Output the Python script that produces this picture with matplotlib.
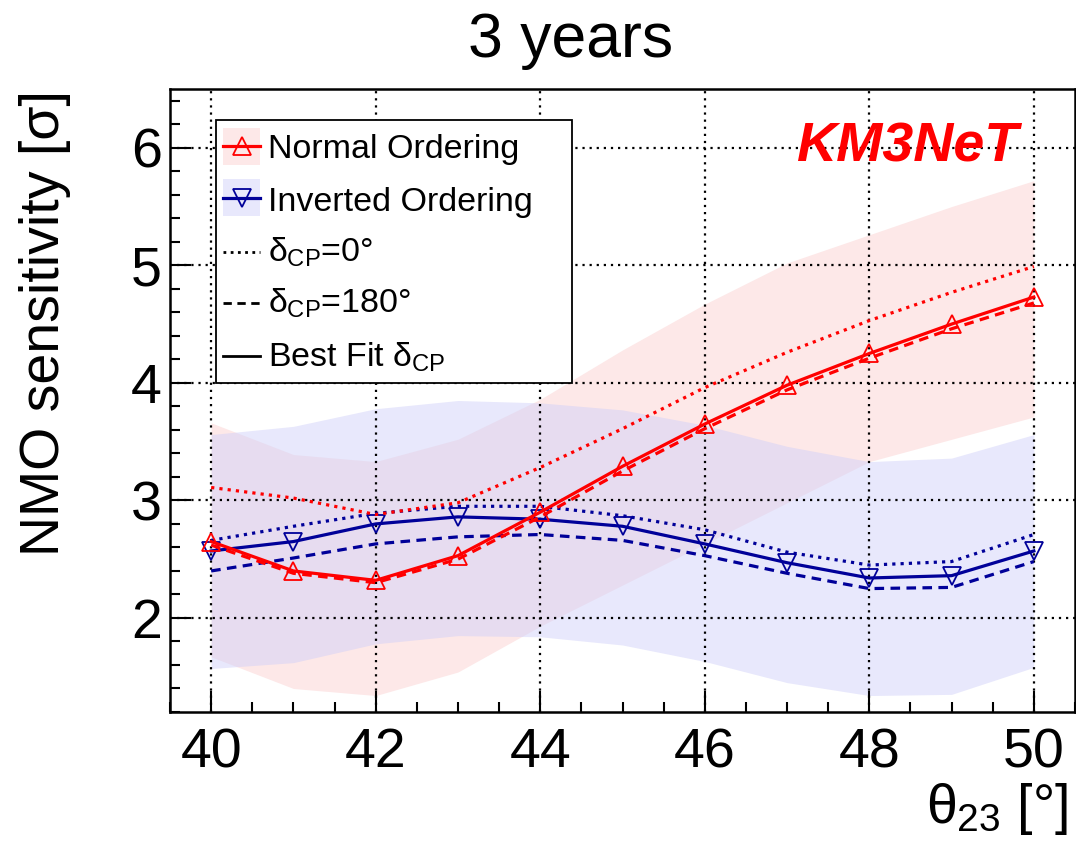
import numpy as np
import matplotlib
matplotlib.use("Agg")
import matplotlib.pyplot as plt
from matplotlib.lines import Line2D
from matplotlib.patches import Rectangle
from matplotlib.ticker import MultipleLocator

plt.rcParams["font.family"] = ["Liberation Sans", "DejaVu Sans"]
plt.rcParams["mathtext.fontset"] = "custom"
plt.rcParams["mathtext.rm"] = "Liberation Sans"
plt.rcParams["mathtext.it"] = "Liberation Sans"
plt.rcParams["mathtext.bf"] = "Liberation Sans:bold"

# theta_23 scan points (degrees)
THETA23 = [40, 41, 42, 43, 44, 45, 46, 47, 48, 49, 50]

# Normal ordering sensitivity
NO_BEST = [2.65, 2.40, 2.32, 2.53, 2.90, 3.29, 3.65, 3.98, 4.25, 4.50, 4.73]
NO_D0 = [3.11, 3.02, 2.88, 2.98, 3.28, 3.61, 3.96, 4.26, 4.53, 4.77, 4.99]
NO_D180 = [2.62, 2.38, 2.30, 2.50, 2.86, 3.25, 3.61, 3.94, 4.21, 4.46, 4.68]
NO_LOW = [1.67, 1.40, 1.34, 1.54, 1.93, 2.28, 2.63, 2.98, 3.33, 3.52, 3.71]
NO_HIGH = [3.66, 3.39, 3.33, 3.52, 3.86, 4.28, 4.67, 5.02, 5.26, 5.50, 5.72]

# Inverted ordering sensitivity
IO_BEST = [2.57, 2.65, 2.80, 2.86, 2.84, 2.78, 2.63, 2.47, 2.34, 2.36, 2.57]
IO_D0 = [2.66, 2.78, 2.89, 2.95, 2.95, 2.87, 2.75, 2.56, 2.45, 2.48, 2.71]
IO_D180 = [2.40, 2.51, 2.63, 2.69, 2.71, 2.66, 2.53, 2.38, 2.25, 2.26, 2.48]
IO_LOW = [1.57, 1.62, 1.78, 1.85, 1.84, 1.77, 1.63, 1.45, 1.34, 1.35, 1.58]
IO_HIGH = [3.56, 3.63, 3.78, 3.85, 3.83, 3.77, 3.64, 3.46, 3.33, 3.36, 3.56]

LEGEND_LABELS = ["Normal Ordering", "Inverted Ordering", r"$\delta_{CP}$=0°",
                 r"$\delta_{CP}$=180°", r"Best Fit $\delta_{CP}$"]

RED = "#ff0000"
NAVY = "#000099"
PINK = "#fde8e8"
LIGHTBLUE = "#e8e8fc"
# semi-transparent blue over the pink band gives the lavender overlap
BLUE_FILL = "#cfcff9"
BLUE_ALPHA = 0.48
DOT = (0, (1, 1.6))
DASH = (0, (3, 2))
LW = 2.3

W, H = 1076, 841
fig = plt.figure(figsize=(W / 100, H / 100), dpi=100)
ax = fig.add_axes([170 / W, 129 / H, 905 / W, 623 / H])

x = np.array(THETA23)
ax.fill_between(x, NO_LOW, NO_HIGH, color=PINK, lw=0)
ax.fill_between(x, IO_LOW, IO_HIGH, color=BLUE_FILL, alpha=BLUE_ALPHA, lw=0)

ax.plot(x, IO_D0, color=NAVY, lw=LW, ls=DOT, zorder=3)
ax.plot(x, IO_D180, color=NAVY, lw=LW, ls=DASH, zorder=3)
ax.plot(x, IO_BEST, color=NAVY, lw=LW, zorder=3, marker="v", ms=13,
        mfc="none", mec=NAVY, mew=1.3)
ax.plot(x, NO_D0, color=RED, lw=LW, ls=DOT, zorder=4)
ax.plot(x, NO_D180, color=RED, lw=LW, ls=DASH, zorder=4)
ax.plot(x, NO_BEST, color=RED, lw=LW, zorder=4, marker="^", ms=13,
        mfc="none", mec=RED, mew=1.3)

ax.set_xlim(39.5, 50.5)
ax.set_ylim(1.2, 6.5)
ax.xaxis.set_major_locator(MultipleLocator(2))
ax.xaxis.set_minor_locator(MultipleLocator(0.5))
ax.yaxis.set_major_locator(MultipleLocator(1))
ax.yaxis.set_minor_locator(MultipleLocator(0.2))
ax.tick_params(which="both", direction="in", top=False, right=False, width=1.5)
ax.tick_params(which="major", length=15, labelsize=40)
ax.tick_params(which="minor", length=7)
ax.tick_params(axis="x", which="major", pad=11)
ax.tick_params(axis="y", which="major", pad=6)
ax.grid(True, which="major", color="black", ls=(0, (1, 2.2)), lw=1.6)
for s in ax.spines.values():
    s.set_linewidth(1.8)

fig.text(0.53, 1 - 57 / H, "3 years", fontsize=45, ha="center", va="baseline")
fig.text(1018 / W, 1 - 147 / H, "KM3NeT", fontsize=40, color=RED,
         fontweight="bold", fontstyle="italic", ha="right", va="center")
fig.text(45 / W, 1 - 90 / H, "NMO sensitivity [σ]", fontsize=40,
         rotation=90, ha="center", va="top")
fig.text(1068 / W, 1 - 823 / H, r"$\theta_{23}$ [°]", fontsize=40,
         ha="right", va="baseline")


# ROOT-style legend box, laid out in figure pixels (y measured from the top)
def fx(px):
    return px / W


def fy(py):
    return 1 - py / H


tf = fig.transFigure
fig.add_artist(Rectangle((fx(216), fy(383)), 356 / W, 263 / H, transform=tf,
                         facecolor="white", edgecolor="black", lw=1.3, zorder=5))

row_mid = [146, 198, 252, 303, 356]
row_base = [158, 211, 262, 313, 367]
hx0, hx1 = 223, 260
styles = [(RED, "-", "^", PINK), (NAVY, "-", "v", LIGHTBLUE),
          ("black", DOT, None, None), ("black", DASH, None, None),
          ("black", "-", None, None)]
for label, ym, yb, (c, ls, mk, box) in zip(LEGEND_LABELS, row_mid, row_base, styles):
    if box is not None:
        fig.add_artist(Rectangle((fx(hx0), fy(ym + 18.5)), (hx1 - hx0) / W,
                                 37 / H, transform=tf, facecolor=box, lw=0,
                                 zorder=6))
    fig.add_artist(Line2D([fx(hx0), fx(hx1)], [fy(ym), fy(ym)], transform=tf,
                          color=c, ls=ls, lw=LW if mk else 2.0, zorder=7))
    if mk is not None:
        fig.add_artist(Line2D([fx((hx0 + hx1) / 2)], [fy(ym)], transform=tf,
                              marker=mk, ms=13, mfc="none", mec=c, mew=1.3,
                              ls="none", zorder=8))
    fig.text(fx(268), fy(yb), label, fontsize=24.5, ha="left", va="baseline",
             zorder=8)

fig.savefig("out.png", dpi=100)
